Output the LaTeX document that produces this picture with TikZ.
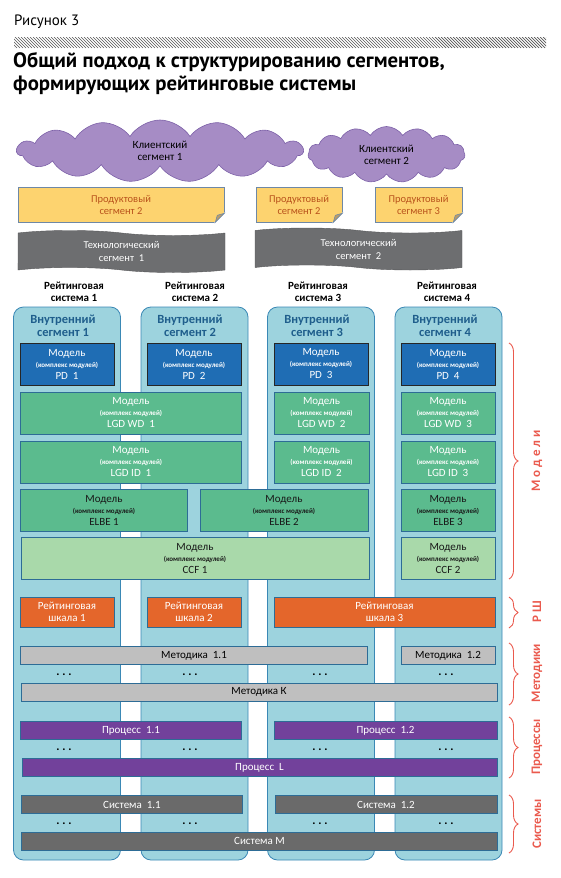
\documentclass[tikz,border=0pt]{standalone}
\usepackage{fontspec}
\setmainfont{Carlito}
\newfontfamily\titlefont{PT Sans}
\usetikzlibrary{shapes.symbols,decorations.pathreplacing,calc}
\definecolor{col-bg}{HTML}{9DD3DE}
\definecolor{col-line}{HTML}{3A88B5}
\definecolor{seg-blue}{HTML}{1F5E8C}
\definecolor{pd-blue}{HTML}{1F6DB4}
\definecolor{model-green}{HTML}{5BBB8E}
\definecolor{ccf-green}{HTML}{A9D9AA}
\definecolor{box-line}{HTML}{2D6C96}
\definecolor{scale-orange}{HTML}{E4662B}
\definecolor{meth-gray}{HTML}{BFBFBF}
\definecolor{proc-purple}{HTML}{72419B}
\definecolor{sys-gray}{HTML}{6A6A6A}
\definecolor{cloud-fill}{HTML}{A68CC5}
\definecolor{cloud-line}{HTML}{7D61A8}
\definecolor{prod-fill}{HTML}{FDD36F}
\definecolor{prod-line}{HTML}{6E88A6}
\definecolor{prod-text}{HTML}{B9531C}
\definecolor{fold-tan}{HTML}{BA9D6A}
\definecolor{tech-gray}{HTML}{6D6E70}
\definecolor{brace-red}{HTML}{EA5A4E}
\definecolor{hatch-gray}{HTML}{555555}
\newcommand{\mdl}[1]{Модель\\[-1pt]{\fontsize{7}{8}\selectfont\bfseries(комплекс модулей)}\\[0pt]#1}

\begin{document}
\begin{tikzpicture}[x=1pt, y=-1pt,
    every node/.style={font=\fontsize{11}{12}\selectfont, inner sep=1pt},
    colbox/.style={draw=col-line, fill=col-bg, line width=0.8pt, rounded corners=10pt,
        minimum width=107pt, minimum height=553pt},
    seghead/.style={text=seg-blue, font=\fontsize{12.5}{12.5}\selectfont\bfseries, align=center},
    syshead/.style={font=\fontsize{11}{11.5}\selectfont\bfseries, align=center},
    modelbox/.style={draw=box-line, line width=0.8pt, align=center, minimum height=42pt},
    pdbox/.style={modelbox, draw=black!85, fill=pd-blue, text=white, minimum width=94pt},
    lgdbox/.style={modelbox, fill=model-green, text=white},
    elbebox/.style={modelbox, fill=model-green, text=black!90},
    ccfbox/.style={modelbox, fill=ccf-green, text=black!90},
    scalebox/.style={draw=box-line, line width=0.8pt, fill=scale-orange, text=white,
        align=center, minimum height=30pt},
    methbox/.style={draw=box-line, line width=0.8pt, fill=meth-gray, text=black, minimum height=18pt},
    procbox/.style={draw=box-line, line width=0.8pt, fill=proc-purple, text=white, minimum height=18pt},
    sysbox/.style={draw=box-line, line width=0.8pt, fill=sys-gray, text=white, minimum height=18pt},
    dotrow/.style={font=\fontsize{12}{12}\selectfont\bfseries},
    cloudbox/.style={cloud, cloud puffs=15, cloud puff arc=115, cloud ignores aspect,
        draw=cloud-line, fill=cloud-fill, line width=0.6pt, align=center},
    prodbox/.style={draw=prod-line, fill=prod-fill, text=prod-text, line width=0.6pt,
        align=center, minimum height=35pt, font=\fontsize{10.5}{12}\selectfont},
    techbox/.style={tape, tape bend top=out and in, tape bend bottom=out and in,
        tape bend height=5pt, draw=tech-gray!80!black, fill=tech-gray,
        text=white, align=center, minimum width=207pt, minimum height=42pt,
        font=\fontsize{10.5}{13}\selectfont},
    bracedeco/.style={draw=brace-red, line width=0.9pt, decorate,
        decoration={brace, amplitude=9pt}},
    sidelabel/.style={rotate=90, text=brace-red, font=\fontsize{13}{13}\selectfont\bfseries}]
  \useasboundingbox (0,0) rectangle (560,878);

  % header
  \node[anchor=base west, font=\titlefont\fontsize{15}{15}\selectfont] (figno) at (13,25) {Рисунок 3};
  \begin{scope}
    \clip (14,37) rectangle (546,48);
    \foreach \i in {0,3,...,550}
      \draw[hatch-gray, line width=0.7pt] (\i,37) -- (\i+11,48);
  \end{scope}
  \node[anchor=north west, align=left, inner sep=0pt,
        font=\titlefont\bfseries\fontsize{20.8}{23}\selectfont] (title) at (13,52)
    {Общий подход к структурированию сегментов,\\формирующих рейтинговые системы};

  % client, product and technology segments
  \node[cloudbox, minimum width=286pt, minimum height=62pt] (cloudA) at (160,151) {Клиентский\\сегмент 1};
  \node[cloudbox, minimum width=157pt, minimum height=56pt] (cloudB) at (386.5,154.5) {Клиентский\\сегмент 2};

  \node[prodbox, minimum width=206pt] (prodA) at (121,204.5) {Продуктовый\\сегмент 2};
  \node[prodbox, minimum width=86pt] (prodB) at (299,204.5) {Продуктовый\\сегмент 2};
  \node[prodbox, minimum width=87pt] (prodC) at (418.5,204.5) {Продуктовый\\сегмент 3};
  \foreach \p in {prodA,prodB,prodC} {
    \fill[white] ($(\p.south east)+(-10,0.5)$) -- ($(\p.south east)+(0.5,0.5)$) -- ($(\p.south east)+(0.5,-10)$) -- cycle;
    \filldraw[fill=fold-tan, draw=prod-line, line width=0.6pt]
      ($(\p.south east)+(-9,0)$) -- ($(\p.south east)+(0,-9)$) -- ($(\p.south east)+(-7,-7)$) -- cycle;
  }

  \node[techbox] (techA) at (121.5,251.5) {Технологический\\сегмент~~1};
  \node[techbox] (techB) at (358.5,249) {Технологический\\сегмент~~2};

  % rating systems
  \node[syshead] (rsA) at (74,292) {Рейтинговая\\система 1};
  \node[syshead] (rsB) at (195,292) {Рейтинговая\\система 2};
  \node[syshead] (rsC) at (318,292) {Рейтинговая\\система 3};
  \node[syshead] (rsD) at (447,292) {Рейтинговая\\система 4};

  \node[colbox] (colA) at (67,583.5) {};
  \node[colbox] (colB) at (194.5,583.5) {};
  \node[colbox] (colC) at (321,583.5) {};
  \node[colbox] (colD) at (448.5,583.5) {};

  \node[seghead] (segA) at (63,326) {Внутренний\\сегмент 1};
  \node[seghead] (segB) at (190,326) {Внутренний\\сегмент 2};
  \node[seghead] (segC) at (317,326) {Внутренний\\сегмент 3};
  \node[seghead] (segD) at (445,326) {Внутренний\\сегмент 4};

  % models
  \node[pdbox] (PD1) at (67,364) {\mdl{PD~~1}};
  \node[pdbox] (PD2) at (194,364) {\mdl{PD~~2}};
  \node[pdbox] (PD3) at (321,364) {\mdl{PD~~3}};
  \node[pdbox] (PD4) at (448,364) {\mdl{PD~~4}};

  \node[lgdbox, minimum width=221pt] (WD1) at (131,413) {\mdl{LGD WD~~1}};
  \node[lgdbox, minimum width=95pt] (WD2) at (321.5,413) {\mdl{LGD WD~~2}};
  \node[lgdbox, minimum width=94pt] (WD3) at (448,413) {\mdl{LGD WD~~3}};

  \node[lgdbox, minimum width=221pt] (ID1) at (131,462) {\mdl{LGD ID~~1}};
  \node[lgdbox, minimum width=95pt] (ID2) at (321.5,462) {\mdl{LGD ID~~2}};
  \node[lgdbox, minimum width=94pt] (ID3) at (448,462) {\mdl{LGD ID~~3}};

  \node[elbebox, minimum width=167pt] (ELBE1) at (104,510.5) {\mdl{ELBE 1}};
  \node[elbebox, minimum width=168pt] (ELBE2) at (284,510.5) {\mdl{ELBE 2}};
  \node[elbebox, minimum width=94pt] (ELBE3) at (448,510.5) {\mdl{ELBE 3}};

  \node[ccfbox, minimum width=348pt] (CCF1) at (195,558.5) {\mdl{CCF 1}};
  \node[ccfbox, minimum width=94pt] (CCF2) at (448,558.5) {\mdl{CCF 2}};

  % rating scales
  \node[scalebox, minimum width=94pt] (scaleA) at (67,612) {Рейтинговая\\шкала 1};
  \node[scalebox, minimum width=94pt] (scaleB) at (194,612) {Рейтинговая\\шкала 2};
  \node[scalebox, minimum width=221pt] (scaleC) at (384.5,612) {Рейтинговая\\шкала 3};

  % methods, processes, systems
  \node[methbox, minimum width=347pt] (meth11) at (194,655.5) {Методика~~1.1};
  \node[methbox, minimum width=94pt] (meth12) at (448,655.5) {Методика~~1.2};
  \node[methbox, minimum width=476pt] (methK) at (259,692) {Методика К};

  \node[procbox, minimum width=221pt] (proc11) at (131,730.5) {Процесс~~1.1};
  \node[procbox, minimum width=223pt] (proc12) at (385.5,730.5) {Процесс~~1.2};
  \node[procbox, minimum width=475pt] (procL) at (259.5,767.5) {Процесс~~L};

  \node[sysbox, minimum width=221pt] (sys11) at (132,804.5) {Система~~1.1};
  \node[sysbox, minimum width=222pt] (sys12) at (386,804.5) {Система~~1.2};
  \node[sysbox, minimum width=476pt] (sysM) at (259.5,841) {Система M};

  \foreach \y/\r in {675/m,750/p,824/s}
    \foreach \x/\c in {64/a,190/b,320/c,446/d}
      \node[dotrow] (dots\r\c) at (\x,\y) {.~.~.};

  % braces on the right
  \draw[bracedeco] (509,343) -- (509,579);
  \draw[bracedeco] (509,597) -- (509,628);
  \draw[bracedeco] (509,643) -- (509,705);
  \draw[bracedeco] (509,717) -- (509,778);
  \draw[bracedeco] (509,795) -- (509,853);
  \node[sidelabel] (lblModels) at (537,461) {М о д е л и};
  \node[sidelabel] (lblScale) at (537,612) {Р Ш};
  \node[sidelabel] (lblMeth) at (537,673) {Методики};
  \node[sidelabel] (lblProc) at (537,747) {Процессы};
  \node[sidelabel] (lblSys) at (537,824) {Системы};
\end{tikzpicture}
\end{document}
